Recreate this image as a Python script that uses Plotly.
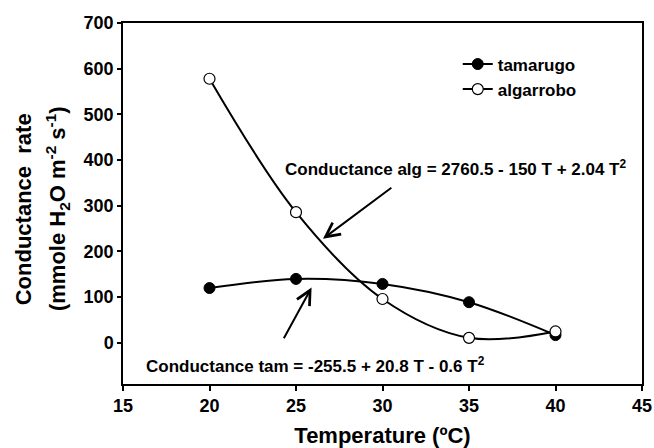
import plotly.graph_objects as go

temperature = [20, 25, 30, 35, 40]
tamarugo = [120, 140, 129, 89, 17]
algarrobo = [578, 286, 96, 11, 25]
series_names = ["tamarugo", "algarrobo"]
x_ticks = [15, 20, 25, 30, 35, 40, 45]
y_ticks = [0, 100, 200, 300, 400, 500, 600, 700]

FONT = "Liberation Sans, Arial, sans-serif"

def b(s):
    return "<b>" + s + "</b>"

fig = go.Figure()
fig.add_trace(go.Scatter(
    x=temperature, y=tamarugo, name=b(series_names[0]), mode="lines+markers",
    line=dict(color="black", width=2, shape="spline", smoothing=1),
    marker=dict(symbol="circle", size=11, color="black", line=dict(color="black", width=1)),
))
fig.add_trace(go.Scatter(
    x=temperature, y=algarrobo, name=b(series_names[1]), mode="lines+markers",
    line=dict(color="black", width=2, shape="spline", smoothing=1),
    marker=dict(symbol="circle", size=11, color="white", line=dict(color="black", width=1.2)),
))

annotations = [
    dict(x=26.56, y=228, ax=30.6, ay=342, xref="x", yref="y", axref="x", ayref="y",
         text="", showarrow=True, arrowhead=5, arrowsize=1.4, arrowwidth=2, arrowcolor="black"),
    dict(x=25.9, y=121, ax=24.25, ay=7, xref="x", yref="y", axref="x", ayref="y",
         text="", showarrow=True, arrowhead=5, arrowsize=1.4, arrowwidth=2, arrowcolor="black"),
    dict(x=34.2, y=383, xref="x", yref="y", showarrow=False,
         text=b("Conductance alg = 2760.5 - 150 T + 2.04 T<sup>2</sup>"),
         font=dict(family=FONT, size=17, color="black", weight="bold")),
    dict(x=26.1, y=-49, xref="x", yref="y", showarrow=False,
         text=b("Conductance tam = -255.5 + 20.8 T - 0.6 T<sup>2</sup>"),
         font=dict(family=FONT, size=17, color="black", weight="bold")),
    dict(x=-0.19, y=0.485, xref="paper", yref="paper", showarrow=False, textangle=-90,
         xanchor="center", yanchor="middle",
         text=b("Conductance  rate"),
         font=dict(family=FONT, size=22, color="black", weight="bold")),
    dict(x=-0.125, y=0.485, xref="paper", yref="paper", showarrow=False, textangle=-90,
         xanchor="center", yanchor="middle",
         text=b("(mmole H<sub>2</sub>O m<sup>-2</sup> s<sup>-1</sup>)"),
         font=dict(family=FONT, size=22, color="black", weight="bold")),
]

fig.update_layout(
    width=654, height=448,
    margin=dict(l=123, r=12, t=23, b=64, autoexpand=False),
    paper_bgcolor="white", plot_bgcolor="white",
    font=dict(family=FONT, color="black", size=17, weight="bold"),
    showlegend=True,
    legend=dict(x=0.645, y=0.935, xanchor="left", yanchor="top",
                font=dict(family=FONT, size=17, color="black", weight="bold"),
                bgcolor="rgba(0,0,0,0)", tracegroupgap=0, itemwidth=30),
    annotations=annotations,
    xaxis=dict(
        range=[15, 45], tickvals=x_ticks, ticktext=[b(str(v)) for v in x_ticks],
        showline=True, linecolor="black", linewidth=1.5, mirror=True,
        ticks="outside", ticklen=5, tickwidth=1.5, tickcolor="black",
        showgrid=False, zeroline=False, automargin=False,
        tickfont=dict(family=FONT, size=18, color="black", weight="bold"),
        title=dict(text=b("Temperature (ºC)"), standoff=13,
                   font=dict(family=FONT, size=22, color="black", weight="bold")),
    ),
    yaxis=dict(
        range=[-90, 700], tickvals=y_ticks, ticktext=[b(str(v)) for v in y_ticks],
        showline=True, linecolor="black", linewidth=1.5, mirror=True,
        ticks="outside", ticklen=4, tickwidth=1.5, tickcolor="black",
        showgrid=False, zeroline=False, automargin=False,
        tickfont=dict(family=FONT, size=18, color="black", weight="bold"),
    ),
)

fig.write_html("out.html")
